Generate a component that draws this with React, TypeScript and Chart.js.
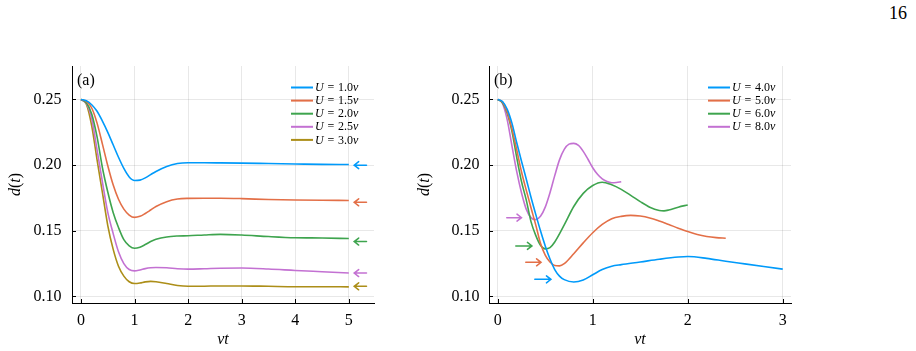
import React, { useEffect, useRef } from "react";
import { Chart, registerables } from "chart.js";

Chart.register(...registerables);

const SERIF = '"Liberation Serif", "Times New Roman", serif';
const PALETTE = ["#009AFA", "#E36F47", "#3EA44E", "#C371D2", "#AC8E18"];

// ---------- panel (a): weak coupling ----------
const tA = [0, 0.1, 0.2, 0.3, 0.4, 0.5, 0.6, 0.7, 0.8, 0.9, 1.0, 1.1, 1.2, 1.3, 1.4, 1.6, 1.8, 2.0, 2.3, 2.6, 3.0, 3.5, 4.0, 4.5, 5.0];
const dU10 = [0.25, 0.249, 0.246, 0.241, 0.2335, 0.225, 0.2155, 0.206, 0.1975, 0.191, 0.1883, 0.1886, 0.1903, 0.1928, 0.1952, 0.199, 0.2012, 0.2018, 0.2018, 0.2017, 0.2015, 0.2012, 0.2009, 0.2006, 0.2005];
const dU15 = [0.25, 0.2485, 0.2435, 0.232, 0.216, 0.1995, 0.185, 0.174, 0.1665, 0.162, 0.1602, 0.161, 0.1632, 0.1658, 0.1685, 0.1722, 0.1742, 0.1747, 0.1748, 0.1748, 0.1745, 0.1738, 0.1734, 0.1732, 0.1731];
const dU20 = [0.25, 0.2475, 0.239, 0.2215, 0.198, 0.1795, 0.164, 0.1525, 0.1432, 0.1385, 0.1367, 0.1375, 0.1395, 0.1418, 0.1435, 0.1453, 0.146, 0.1462, 0.1468, 0.1473, 0.1468, 0.1456, 0.1447, 0.1445, 0.1441];
const dU25 = [0.25, 0.247, 0.2355, 0.2115, 0.187, 0.164, 0.148, 0.134, 0.125, 0.1205, 0.1195, 0.1202, 0.1212, 0.1218, 0.122, 0.1218, 0.1211, 0.1208, 0.1211, 0.1215, 0.1216, 0.1209, 0.1198, 0.1188, 0.1178];
const dU30 = [0.25, 0.2465, 0.23, 0.204, 0.179, 0.154, 0.136, 0.123, 0.1155, 0.1112, 0.1098, 0.1102, 0.1111, 0.1115, 0.1112, 0.1098, 0.1083, 0.1077, 0.1078, 0.108, 0.108, 0.1077, 0.1074, 0.1074, 0.1073];
const labelsA = ["1.0", "1.5", "2.0", "2.5", "3.0"];
// long-time limits marked on the right edge (arrows point left)
const limitsA = [0.2, 0.1717, 0.1418, 0.1178, 0.1077];
const limitTailA = 5.33;
const limitHeadA = 5.1;

// ---------- panel (b): strong coupling ----------
const tU40 = [0, 0.05, 0.1, 0.15, 0.2, 0.25, 0.3, 0.35, 0.4, 0.45, 0.5, 0.55, 0.6, 0.65, 0.7, 0.8, 0.9, 1.0, 1.1, 1.2, 1.3, 1.5, 1.7, 1.9, 2.0, 2.2, 2.4, 2.6, 2.8, 3.0];
const dU40 = [0.25, 0.2485, 0.2425, 0.2318, 0.217, 0.203, 0.1895, 0.1755, 0.1625, 0.15, 0.1385, 0.1285, 0.1205, 0.1155, 0.1128, 0.111, 0.1125, 0.1165, 0.1205, 0.123, 0.1242, 0.1262, 0.1283, 0.13, 0.1304, 0.129, 0.1268, 0.1248, 0.1228, 0.1208];
const tU50 = [0, 0.05, 0.1, 0.15, 0.2, 0.25, 0.3, 0.35, 0.4, 0.45, 0.5, 0.55, 0.6, 0.65, 0.7, 0.8, 0.9, 1.0, 1.1, 1.2, 1.3, 1.4, 1.5, 1.6, 1.7, 1.8, 1.9, 2.0, 2.1, 2.2, 2.3, 2.4];
const dU50 = [0.25, 0.248, 0.2405, 0.2275, 0.2115, 0.195, 0.181, 0.1675, 0.1545, 0.1405, 0.1315, 0.1262, 0.1236, 0.1233, 0.125, 0.1325, 0.1408, 0.1485, 0.1548, 0.1592, 0.161, 0.1617, 0.1612, 0.1598, 0.1575, 0.1548, 0.152, 0.1494, 0.1472, 0.1457, 0.1448, 0.1443];
const tU60 = [0, 0.05, 0.1, 0.15, 0.2, 0.25, 0.3, 0.35, 0.4, 0.45, 0.5, 0.55, 0.6, 0.7, 0.8, 0.9, 1.0, 1.1, 1.2, 1.3, 1.4, 1.5, 1.6, 1.7, 1.75, 1.8, 1.9, 2.0];
const dU60 = [0.25, 0.2475, 0.2395, 0.2255, 0.2058, 0.1875, 0.1735, 0.157, 0.1465, 0.139, 0.1362, 0.1372, 0.1415, 0.1545, 0.1685, 0.1785, 0.1845, 0.187, 0.185, 0.1815, 0.177, 0.1722, 0.168, 0.1655, 0.1652, 0.1658, 0.168, 0.1697];
const tU80 = [0, 0.05, 0.1, 0.15, 0.2, 0.25, 0.3, 0.35, 0.4, 0.45, 0.5, 0.55, 0.6, 0.65, 0.7, 0.75, 0.8, 0.85, 0.9, 0.95, 1.0, 1.05, 1.1, 1.15, 1.2, 1.25, 1.3];
const dU80 = [0.25, 0.247, 0.2345, 0.2145, 0.195, 0.179, 0.1665, 0.16, 0.1585, 0.161, 0.168, 0.179, 0.192, 0.204, 0.212, 0.216, 0.2166, 0.215, 0.2105, 0.2045, 0.198, 0.193, 0.1895, 0.1875, 0.1866, 0.1868, 0.1874];
const labelsB = ["4.0", "5.0", "6.0", "8.0"];
// long-time limits marked near the left (arrows point right)
const limitsB = [0.113, 0.126, 0.1385, 0.16];
const limitTailB = [0.39, 0.295, 0.19, 0.095];
const limitHeadB = [0.56, 0.456, 0.36, 0.25];

const yTicks = [0.1, 0.15, 0.2, 0.25];
const xTicksA = [0, 1, 2, 3, 4, 5];
const xTicksB = [0, 1, 2, 3];

type Series = { t: number[]; d: number[]; label: string; color: string };
type Arrow = { y: number; tail: number; head: number; color: string };
type Run = [string, boolean] | number;

function runsWidth(ctx: CanvasRenderingContext2D, runs: Run[], size: number) {
  let w = 0;
  for (const r of runs) {
    if (typeof r === "number") { w += r; continue; }
    ctx.font = `${r[1] ? "italic " : ""}${size}px ${SERIF}`;
    w += ctx.measureText(r[0]).width;
  }
  return w;
}

function drawRuns(ctx: CanvasRenderingContext2D, runs: Run[], x: number, y: number, size: number) {
  let cx = x;
  for (const r of runs) {
    if (typeof r === "number") { cx += r; continue; }
    ctx.font = `${r[1] ? "italic " : ""}${size}px ${SERIF}`;
    ctx.fillText(r[0], cx, y);
    cx += ctx.measureText(r[0]).width;
  }
}

type PanelProps = {
  left: number;
  width: number;
  series: Series[];
  arrows: Arrow[];
  xMin: number;
  xMax: number;
  xTicks: number[];
  tag: string;
  yAxisWidth: number;
  padRight: number;
  tickPad: number;
  yTitleGap: number;
};

function Panel(p: PanelProps) {
  const ref = useRef<HTMLCanvasElement>(null);

  useEffect(() => {
    const canvas = ref.current;
    if (!canvas) return;

    const decor = {
      id: "decor",
      afterDraw(chart: any) {
        const { ctx, chartArea: a } = chart;
        const xs = chart.scales.x;
        const ys = chart.scales.y;
        ctx.save();

        // tick marks on the inside of the axes
        ctx.strokeStyle = "#000";
        ctx.lineWidth = 1;
        for (const v of p.xTicks) {
          const px = Math.round(xs.getPixelForValue(v)) + 0.5;
          ctx.beginPath();
          ctx.moveTo(px, a.bottom);
          ctx.lineTo(px, a.bottom - 4);
          ctx.stroke();
        }
        for (const v of yTicks) {
          const py = Math.round(ys.getPixelForValue(v)) + 0.5;
          ctx.beginPath();
          ctx.moveTo(a.left, py);
          ctx.lineTo(a.left + 4, py);
          ctx.stroke();
        }

        // arrows marking the limiting values
        ctx.lineWidth = 1.5;
        ctx.lineCap = "round";
        for (const ar of p.arrows) {
          const tx = xs.getPixelForValue(ar.tail);
          const hx = xs.getPixelForValue(ar.head);
          const py = ys.getPixelForValue(ar.y);
          const dir = Math.sign(hx - tx);
          ctx.strokeStyle = ar.color;
          ctx.beginPath();
          ctx.moveTo(tx, py);
          ctx.lineTo(hx, py);
          ctx.moveTo(hx - dir * 4.5, py - 3.5);
          ctx.lineTo(hx, py);
          ctx.lineTo(hx - dir * 4.5, py + 3.5);
          ctx.stroke();
        }
        ctx.lineCap = "butt";

        // legend
        ctx.textBaseline = "middle";
        ctx.textAlign = "left";
        ctx.fillStyle = "#000";
        p.series.forEach((s, i) => {
          const ry = a.top + 21.5 + 13.1 * i;
          ctx.strokeStyle = s.color;
          ctx.lineWidth = 2;
          ctx.beginPath();
          ctx.moveTo(a.right - 83, ry);
          ctx.lineTo(a.right - 61, ry);
          ctx.stroke();
          drawRuns(ctx, [["U", true], 3.8, ["=", false], 3.8, [s.label, false], ["v", true]], a.right - 59, ry + 0.5, 12);
        });

        // panel tag
        ctx.font = `16px ${SERIF}`;
        ctx.fillText(p.tag, a.left + 5, a.top + 15);

        // axis titles
        const vt: Run[] = [["vt", true]];
        const wvt = runsWidth(ctx, vt, 16);
        drawRuns(ctx, vt, (a.left + a.right) / 2 - wvt / 2, a.bottom + 37, 16);

        const dt: Run[] = [["d", true], ["(", false], ["t", true], [")", false]];
        const wdt = runsWidth(ctx, dt, 16);
        ctx.translate(a.left - p.yTitleGap, (a.top + a.bottom) / 2);
        ctx.rotate(-Math.PI / 2);
        drawRuns(ctx, dt, -wdt / 2, 0, 16);
        ctx.restore();
      },
    };

    const tickFont = { family: SERIF, size: 16 };
    const chart = new Chart(canvas, {
      type: "line",
      data: {
        datasets: p.series.map((s) => ({
          label: s.label,
          data: s.t.map((t, i) => ({ x: t, y: s.d[i] })),
          borderColor: s.color,
          backgroundColor: s.color,
          borderWidth: 1.6,
          pointRadius: 0,
          cubicInterpolationMode: "monotone" as const,
          fill: false,
        })),
      },
      options: {
        animation: false,
        responsive: false,
        devicePixelRatio: 1,
        layout: { padding: { top: 66, right: p.padRight, left: 0, bottom: 0 } },
        plugins: {
          legend: { display: false },
          tooltip: { enabled: false },
        },
        scales: {
          x: {
            type: "linear",
            min: p.xMin,
            max: p.xMax,
            afterBuildTicks: (s: any) => {
              s.ticks = p.xTicks.map((v) => ({ value: v }));
            },
            afterFit: (s: any) => {
              s.height = 48;
            },
            grid: { color: "rgba(0,0,0,0.09)", lineWidth: 1, drawTicks: false },
            border: { color: "#000", width: 1 },
            ticks: {
              color: "#000",
              font: tickFont,
              padding: 8,
              maxRotation: 0,
              callback: (v: any) => String(v),
            },
          },
          y: {
            type: "linear",
            min: 0.095,
            max: 0.2755,
            afterBuildTicks: (s: any) => {
              s.ticks = yTicks.map((v) => ({ value: v }));
            },
            afterFit: (s: any) => {
              s.width = p.yAxisWidth;
            },
            grid: { color: "rgba(0,0,0,0.09)", lineWidth: 1, drawTicks: false },
            border: { color: "#000", width: 1 },
            ticks: {
              color: "#000",
              font: tickFont,
              padding: p.tickPad,
              callback: (v: any) => Number(v).toFixed(2),
            },
          },
        },
      },
      plugins: [decor],
    });

    return () => chart.destroy();
  }, []);

  return (
    <canvas
      ref={ref}
      width={p.width}
      height={351}
      style={{ position: "absolute", left: p.left, top: 0, width: p.width, height: 351, display: "block" }}
    />
  );
}

export default function App() {
  const seriesA: Series[] = [dU10, dU15, dU20, dU25, dU30].map((d, i) => ({
    t: tA,
    d,
    label: labelsA[i],
    color: PALETTE[i],
  }));
  const arrowsA: Arrow[] = limitsA.map((y, i) => ({ y, tail: limitTailA, head: limitHeadA, color: PALETTE[i] }));

  const tB = [tU40, tU50, tU60, tU80];
  const seriesB: Series[] = [dU40, dU50, dU60, dU80].map((d, i) => ({
    t: tB[i],
    d,
    label: labelsB[i],
    color: PALETTE[i],
  }));
  const arrowsB: Arrow[] = limitsB.map((y, i) => ({ y, tail: limitTailB[i], head: limitHeadB[i], color: PALETTE[i] }));

  return (
    <div style={{ position: "absolute", left: 0, top: 0, width: 916, height: 351, background: "#fff", overflow: "hidden" }}>
      <Panel
        left={0}
        width={400}
        series={seriesA}
        arrows={arrowsA}
        xMin={-0.168}
        xMax={5.47}
        xTicks={xTicksA}
        tag="(a)"
        yAxisWidth={72}
        padRight={26}
        tickPad={10.5}
        yTitleGap={56}
      />
      <Panel
        left={405}
        width={420}
        series={seriesB}
        arrows={arrowsB}
        xMin={-0.092}
        xMax={3.087}
        xTicks={xTicksB}
        tag="(b)"
        yAxisWidth={84}
        padRight={34}
        tickPad={9.5}
        yTitleGap={64.5}
      />
      <div
        style={{
          position: "absolute",
          left: 889,
          top: 4,
          fontFamily: SERIF,
          fontSize: 18,
          lineHeight: "18px",
          color: "#000",
        }}
      >
        16
      </div>
    </div>
  );
}
